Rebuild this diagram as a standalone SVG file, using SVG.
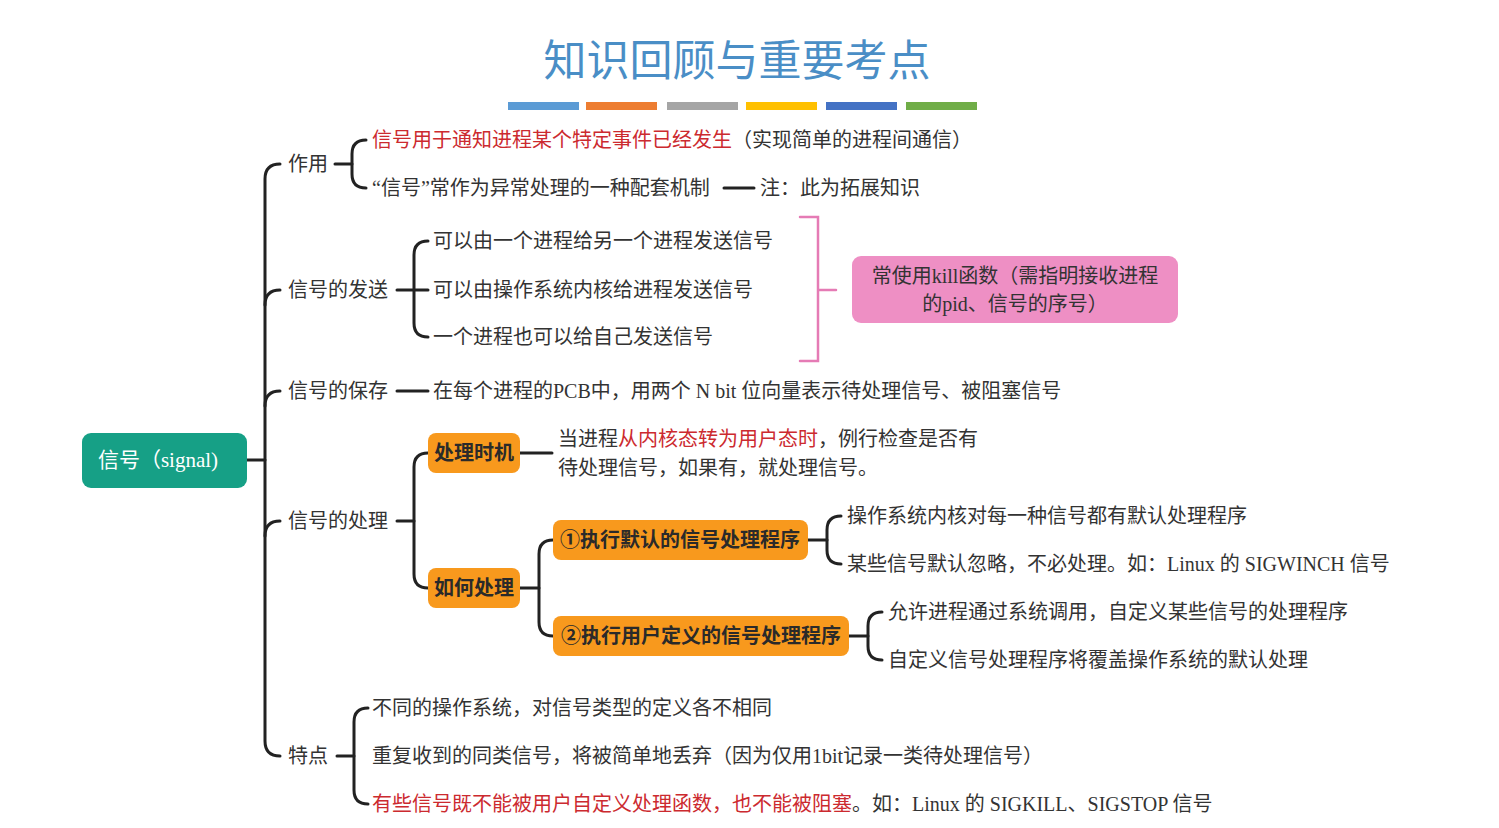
<svg xmlns="http://www.w3.org/2000/svg" width="1499" height="828" viewBox="0 0 1499 828">
<style>
text{font-family:"Liberation Serif","Noto Sans CJK SC",sans-serif;font-size:20px;fill:#333;dominant-baseline:central}
.r{fill:#cc2a2f}
.b{font-weight:bold;fill:#2a2a2a}
.c path,.c line{fill:none;stroke:#222;stroke-width:3;stroke-linecap:round}
.box{fill:#f8991d}
</style>
<rect width="1499" height="828" fill="#fff"/>
<text x="737" y="57" text-anchor="middle" style="font-size:43px;fill:#4a8ec6;font-family:'Noto Sans CJK SC',sans-serif">知识回顾与重要考点</text>
<g>
<rect x="508" y="102" width="71" height="8" fill="#5b9bd5"/>
<rect x="586" y="102" width="71" height="8" fill="#ed7d31"/>
<rect x="667" y="102" width="71" height="8" fill="#a5a5a5"/>
<rect x="746" y="102" width="71" height="8" fill="#ffc000"/>
<rect x="826" y="102" width="71" height="8" fill="#4472c4"/>
<rect x="906" y="102" width="71" height="8" fill="#70ad47"/>
</g>
<g class="c" id="connectors">
<line x1="247" y1="460" x2="265" y2="460"/>
<path d="M280 164 Q265 164 265 179 L265 741 Q265 756 280 756"/>
<path d="M265 305 Q265 290 280 290"/><path d="M265 406 Q265 391 280 391"/><path d="M265 536 Q265 521 280 521"/>
<line x1="335" y1="164" x2="352" y2="164"/>
<path d="M366 140 Q352 140 352 154 L352 174 Q352 188 366 188"/>
<line x1="724" y1="188" x2="754" y2="188"/>
<line x1="397" y1="290" x2="428" y2="290"/>
<path d="M428 241 Q414 241 414 255 L414 323 Q414 337 428 337"/>
<path d="M800 217 L818 217 L818 361 L800 361 M818 290 L836 290" style="stroke:#e57bb5;stroke-width:2.5"/>
<line x1="397" y1="391" x2="428" y2="391"/>
<line x1="397" y1="521" x2="414" y2="521"/>
<path d="M428 453 Q414 453 414 467 L414 574 Q414 588 428 588"/>
<line x1="520" y1="453" x2="552" y2="453"/>
<line x1="520" y1="588" x2="539" y2="588"/>
<path d="M553 540 Q539 540 539 554 L539 622 Q539 636 553 636"/>
<line x1="808" y1="540" x2="827" y2="540"/>
<path d="M841 516 Q827 516 827 530 L827 550 Q827 564 841 564"/>
<line x1="849" y1="636" x2="868" y2="636"/>
<path d="M882 612 Q868 612 868 626 L868 646 Q868 660 882 660"/>
<line x1="337" y1="756" x2="354" y2="756"/>
<path d="M368 708 Q354 708 354 722 L354 790 Q354 804 368 804"/>
</g>
<g id="root"><rect x="82" y="433" width="165" height="55" rx="9" fill="#16a086"/><text x="158" y="460" text-anchor="middle" style="fill:#fff;font-size:21px">信号（signal)</text></g>
<g id="zuoyong"><text x="288" y="164">作用</text>
<text x="372" y="140"><tspan class="r">信号用于通知进程某个特定事件已经发生</tspan>（实现简单的进程间通信）</text>
<text x="372" y="188">“信号”常作为异常处理的一种配套机制</text>
<text x="760" y="188">注：此为拓展知识</text></g>
<g id="fasong"><text x="288" y="290">信号的发送</text>
<text x="433" y="241">可以由一个进程给另一个进程发送信号</text>
<text x="433" y="290">可以由操作系统内核给进程发送信号</text>
<text x="433" y="337">一个进程也可以给自己发送信号</text>
<rect x="852" y="256" width="326" height="67" rx="9" fill="#ee8fc4"/>
<text x="1015" y="276" text-anchor="middle">常使用kill函数（需指明接收进程</text>
<text x="1015" y="304" text-anchor="middle">的pid、信号的序号）</text></g>
<g id="baocun"><text x="288" y="391">信号的保存</text>
<text x="433" y="391">在每个进程的PCB中，用两个 N bit 位向量表示待处理信号、被阻塞信号</text></g>
<g id="chuli"><text x="288" y="521">信号的处理</text>
<rect class="box" x="428" y="433" width="92" height="40" rx="8"/><text class="b" x="474" y="453" text-anchor="middle">处理时机</text>
<text x="558" y="439">当进程<tspan class="r">从内核态转为用户态时</tspan>，例行检查是否有</text>
<text x="558" y="468">待处理信号，如果有，就处理信号。</text>
<rect class="box" x="428" y="568" width="92" height="40" rx="8"/><text class="b" x="474" y="588" text-anchor="middle">如何处理</text>
<rect class="box" x="553" y="520" width="255" height="40" rx="8"/><text class="b" x="680" y="540" text-anchor="middle">①执行默认的信号处理程序</text>
<rect class="box" x="553" y="616" width="296" height="40" rx="8"/><text class="b" x="701" y="636" text-anchor="middle">②执行用户定义的信号处理程序</text>
<text x="847" y="516">操作系统内核对每一种信号都有默认处理程序</text>
<text x="847" y="564">某些信号默认忽略，不必处理。如：Linux 的 SIGWINCH 信号</text>
<text x="888" y="612">允许进程通过系统调用，自定义某些信号的处理程序</text>
<text x="888" y="660">自定义信号处理程序将覆盖操作系统的默认处理</text></g>
<g id="tedian"><text x="288" y="756">特点</text>
<text x="372" y="708">不同的操作系统，对信号类型的定义各不相同</text>
<text x="372" y="756">重复收到的同类信号，将被简单地丢弃（因为仅用1bit记录一类待处理信号）</text>
<text x="372" y="804"><tspan class="r">有些信号既不能被用户自定义处理函数，也不能被阻塞</tspan>。如：Linux 的 SIGKILL、SIGSTOP 信号</text></g>
</svg>
